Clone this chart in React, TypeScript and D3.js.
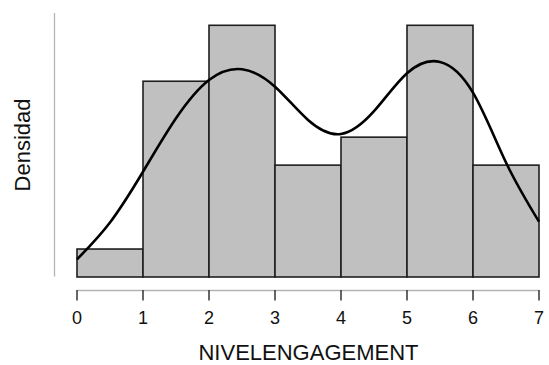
import React from "react";
import * as d3 from "d3";

const binEdges = [0, 1, 2, 3, 4, 5, 6, 7];
const binCounts = [2, 14, 18, 8, 10, 18, 8];
const xTicks = [0, 1, 2, 3, 4, 5, 6, 7];
const curveX = [0, 0.5, 1.0, 1.5, 2.0, 2.5, 3.0, 3.5, 4.0, 4.5, 5.0, 5.5, 6.0, 6.5, 7.0];
const curveY = [0.0162, 0.05, 0.0965, 0.1455, 0.1806, 0.1905, 0.1745, 0.144, 0.1311, 0.152, 0.1868, 0.1972, 0.169, 0.105, 0.0507];
const xLabel = "NIVELENGAGEMENT";
const yLabel = "Densidad";

export default function App() {
  const W = 549, H = 365;
  const total = d3.sum(binCounts);
  const dens = binCounts.map((c) => c / total);
  const x = d3.scaleLinear().domain([0, 7]).range([77, 539]);
  const y = d3.scaleLinear().domain([0, d3.max(dens) as number]).range([277, 25.3]);
  const line = d3
    .line<number>()
    .x((_, i) => x(curveX[i]))
    .y((d) => y(d))
    .curve(d3.curveNatural);
  const font = "'Liberation Sans', Arial, sans-serif";
  return (
    <svg width={W} height={H} style={{ position: "absolute", left: 0, top: 0 }}>
      <line x1={54.5} x2={54.5} y1={13} y2={276.5} stroke="#b4b4b4" strokeWidth={1.3} />
      {dens.map((d, i) => (
        <rect
          key={i}
          x={x(binEdges[i])}
          y={y(d)}
          width={x(binEdges[i + 1]) - x(binEdges[i])}
          height={y(0) - y(d)}
          fill="#c0c0c0"
          stroke="#1e1e1e"
          strokeWidth={1.6}
        />
      ))}
      <path d={line(curveY) || ""} fill="none" stroke="#000" strokeWidth={2.6} />
      <line x1={x(0)} x2={x(7)} y1={290.5} y2={290.5} stroke="#b4b4b4" strokeWidth={1.3} />
      {xTicks.map((t) => (
        <g key={t}>
          <line x1={x(t)} x2={x(t)} y1={290} y2={300.5} stroke="#333" strokeWidth={1.5} />
          <text x={x(t)} y={323.5} textAnchor="middle" fontFamily={font} fontSize={18} fill="#111">
            {t}
          </text>
        </g>
      ))}
      <text x={(x(0) + x(7)) / 2 + 0.5} y={360} textAnchor="middle" fontFamily={font} fontSize={22} fill="#111">
        {xLabel}
      </text>
      <text
        transform={`translate(29.5,145) rotate(-90)`}
        textAnchor="middle"
        fontFamily={font}
        fontSize={22}
        fill="#111"
      >
        {yLabel}
      </text>
    </svg>
  );
}
